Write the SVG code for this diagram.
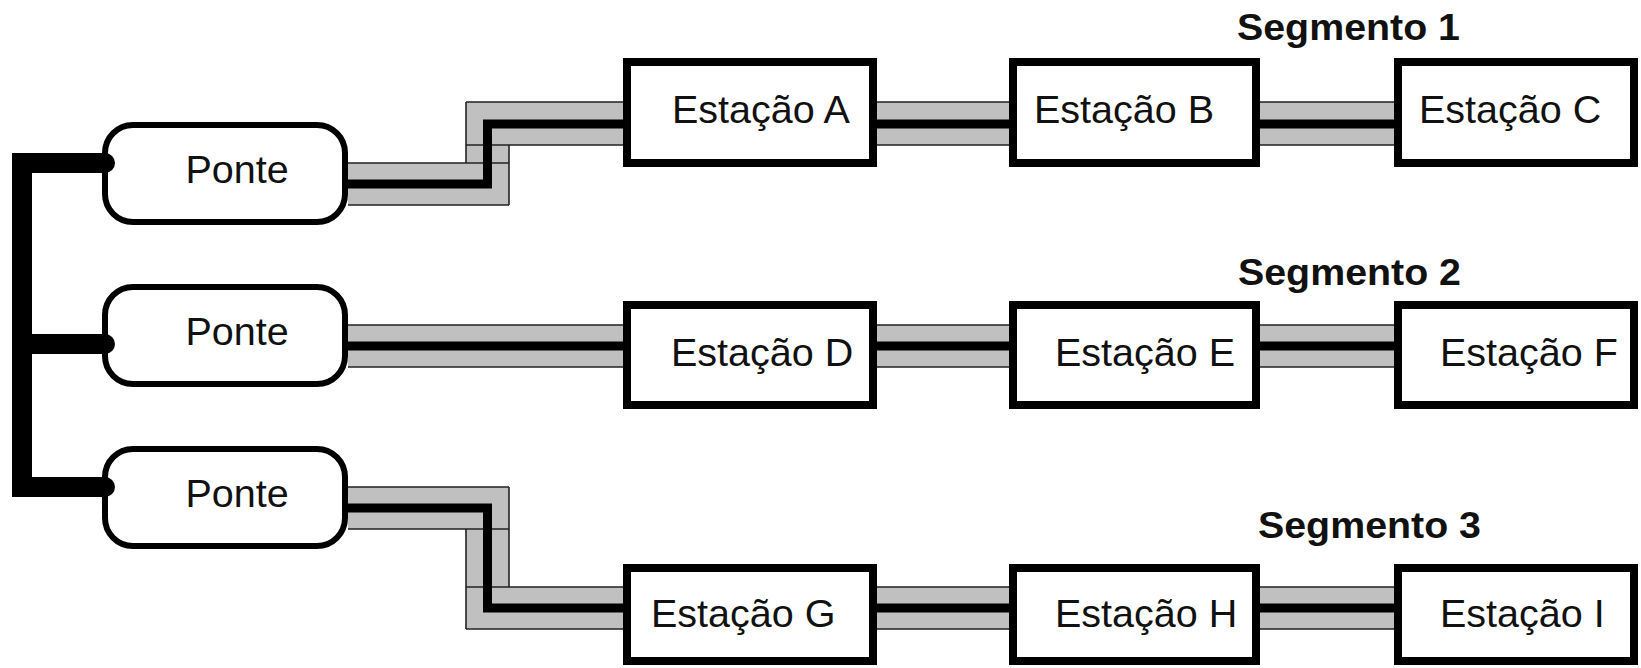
<svg xmlns="http://www.w3.org/2000/svg" width="1641" height="668" viewBox="0 0 1641 668">
<style>
.ponte{fill:#fff;stroke:#000;stroke-width:6}
.est{fill:#fff;stroke:#000;stroke-width:8}
.lbl{font-family:"Liberation Sans",Arial,sans-serif;font-size:39.5px;fill:#111}
.seg{font-family:"Liberation Sans",Arial,sans-serif;font-size:36px;font-weight:bold;fill:#111}
.band{fill:#c0c0c0;stroke:none}
.edge{stroke:#222;stroke-width:1.6;fill:none}
.core{stroke:#000;stroke-width:9;fill:none;stroke-linejoin:miter}
.bus{stroke:#000;stroke-width:20;fill:none;stroke-linecap:round;stroke-linejoin:miter}
</style>
<rect width="1641" height="668" fill="#fff"/>
<g id="labels">
<text class="seg" x="1237" y="40" textLength="223" lengthAdjust="spacingAndGlyphs">Segmento 1</text>
<text class="seg" x="1238" y="285" textLength="223" lengthAdjust="spacingAndGlyphs">Segmento 2</text>
<text class="seg" x="1258" y="538" textLength="223" lengthAdjust="spacingAndGlyphs">Segmento 3</text>
</g>
<g id="ponte1"><rect class="ponte" x="105" y="125" width="240" height="97" rx="28"/><text class="lbl" x="237" y="183" text-anchor="middle">Ponte</text></g>
<g id="ponte2"><rect class="ponte" x="105" y="287" width="240" height="97" rx="28"/><text class="lbl" x="237" y="345" text-anchor="middle">Ponte</text></g>
<g id="ponte3"><rect class="ponte" x="105" y="449" width="240" height="97" rx="28"/><text class="lbl" x="237" y="507" text-anchor="middle">Ponte</text></g>
<g id="estacaoA"><rect class="est" x="627" y="62" width="246" height="101"/><text class="lbl" x="672" y="123">Estação A</text></g>
<g id="estacaoB"><rect class="est" x="1013" y="62" width="243" height="101"/><text class="lbl" x="1034" y="123">Estação B</text></g>
<g id="estacaoC"><rect class="est" x="1398" y="62" width="236" height="101"/><text class="lbl" x="1419" y="123">Estação C</text></g>
<g id="estacaoD"><rect class="est" x="627" y="305" width="246" height="100"/><text class="lbl" x="671" y="366">Estação D</text></g>
<g id="estacaoE"><rect class="est" x="1013" y="305" width="243" height="100"/><text class="lbl" x="1055" y="366">Estação E</text></g>
<g id="estacaoF"><rect class="est" x="1398" y="305" width="236" height="100"/><text class="lbl" x="1440" y="366">Estação F</text></g>
<g id="estacaoG"><rect class="est" x="627" y="568" width="246" height="93"/><text class="lbl" x="651" y="627">Estação G</text></g>
<g id="estacaoH"><rect class="est" x="1013" y="568" width="243" height="93"/><text class="lbl" x="1055" y="627">Estação H</text></g>
<g id="estacaoI"><rect class="est" x="1398" y="568" width="236" height="93"/><text class="lbl" x="1440" y="627">Estação I</text></g>
<g id="connectors">
<path class="bus" d="M105 163 H22 V487 H105"/>
<path class="bus" d="M22 344 H105"/>
<!-- Ponte 1 to A -->
<path class="band" d="M348 163 H466 V102 H623 V145 H509 V205 H348 Z"/>
<path class="edge" d="M466 102 H623 M466 145 H623 M348 163 H509 M348 205 H509 M466 102 V163 M509 145 V205"/>
<path class="core" d="M344 184 H487.5 V124 H623"/>
<!-- Ponte 2 to D -->
<rect class="band" x="348" y="325" width="275" height="42"/>
<path class="edge" d="M348 325 H623 M348 367 H623"/>
<path class="core" d="M344 346 H623"/>
<!-- Ponte 3 to G -->
<path class="band" d="M348 487 H509 V587 H623 V629 H466 V529 H348 Z"/>
<path class="edge" d="M348 487 H509 M348 529 H509 M466 587 H623 M466 629 H623 M509 487 V587 M466 529 V629"/>
<path class="core" d="M344 508 H487.5 V608 H623"/>
<!-- Segment 1 -->
<rect class="band" x="877" y="102" width="132" height="43"/>
<rect class="band" x="1260" y="102" width="134" height="43"/>
<path class="edge" d="M877 102 H1009 M877 145 H1009 M1260 102 H1394 M1260 145 H1394"/>
<path class="core" d="M877 124 H1009 M1260 124 H1394"/>
<!-- Segment 2 -->
<rect class="band" x="877" y="325" width="132" height="42"/>
<rect class="band" x="1260" y="325" width="134" height="42"/>
<path class="edge" d="M877 325 H1009 M877 367 H1009 M1260 325 H1394 M1260 367 H1394"/>
<path class="core" d="M877 346 H1009 M1260 346 H1394"/>
<!-- Segment 3 -->
<rect class="band" x="877" y="587" width="132" height="42"/>
<rect class="band" x="1260" y="587" width="134" height="42"/>
<path class="edge" d="M877 587 H1009 M877 629 H1009 M1260 587 H1394 M1260 629 H1394"/>
<path class="core" d="M877 608 H1009 M1260 608 H1394"/>
</g>
</svg>
